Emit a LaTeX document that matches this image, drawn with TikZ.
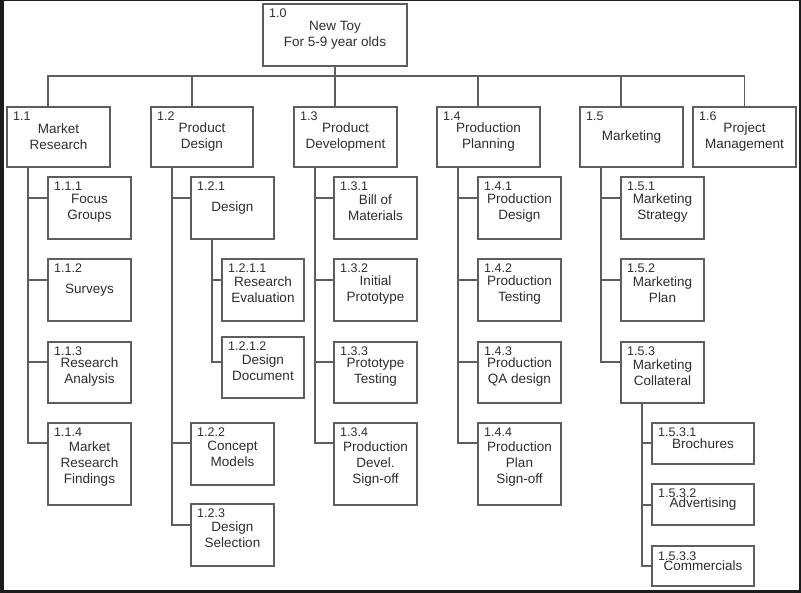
\documentclass[tikz,border=0pt]{standalone}
\usepackage{fontspec}
\setmainfont{Liberation Sans}
\definecolor{linegray}{HTML}{5E5E5E}
\definecolor{inkgray}{HTML}{2E2E2E}
\definecolor{framedark}{HTML}{1C1C1C}
\newcommand\namefont{\fontsize{13.5}{16}\selectfont}
\newcommand\idfont{\fontsize{12.5}{14}\selectfont}
\tikzset{
  wbs/.style={draw=linegray, line width=1.3pt, rectangle, inner sep=0pt,
    outer sep=0pt, align=center, font=\namefont, text=inkgray, anchor=north west},
  wbsid/.style={anchor=base west, font=\idfont, text=inkgray, inner sep=0pt},
  link/.style={draw=linegray, line width=1.3pt},
}
% #1 name, #2 left, #3 top, #4 width, #5 height, #6 code, #7 title
\newcommand\wbsnode[7]{%
  \node[wbs, minimum width=#4pt, minimum height=#5pt] (#1) at (#2pt,-#3pt) {#7};
  \node[wbsid] (#1-id) at ([xshift=6pt,yshift=-14pt]#1.north west) {#6};
}
\begin{document}
\begin{tikzpicture}
\useasboundingbox[fill=framedark] (0,0) rectangle (801pt,-593pt);
\fill[white] (4pt,-1pt) rectangle (799pt,-590pt);

% level 0 and 1
\wbsnode{n10}{263}{4}{144}{62}{1.0}{New Toy\\For 5-9 year olds}
\wbsnode{n11}{7}{107}{103}{60}{1.1}{Market\\Research}
\wbsnode{n12}{151}{107}{102}{60}{1.2}{Product\\Design}
\wbsnode{n13}{294}{107}{103}{60}{1.3}{Product\\Development}
\wbsnode{n14}{437}{107}{103}{60}{1.4}{Production\\Planning}
\wbsnode{n15}{580}{107}{103}{60}{1.5}{Marketing}
\wbsnode{n16}{693}{107}{103}{60}{1.6}{Project\\Management}

% 1.1 branch
\wbsnode{n111}{48}{177}{83}{62}{1.1.1}{Focus\\Groups}
\wbsnode{n112}{48}{259}{83}{62}{1.1.2}{Surveys}
\wbsnode{n113}{48}{342}{83}{61}{1.1.3}{Research\\Analysis}
\wbsnode{n114}{48}{423}{83}{82}{1.1.4}{Market\\Research\\Findings}

% 1.2 branch
\wbsnode{n121}{191}{177}{83}{62}{1.2.1}{Design}
\wbsnode{n1211}{222}{259}{82}{62}{1.2.1.1}{Research\\Evaluation}
\wbsnode{n1212}{222}{337}{82}{61}{1.2.1.2}{Design\\Document}
\wbsnode{n122}{191}{423}{83}{62}{1.2.2}{Concept\\Models}
\wbsnode{n123}{191}{504}{83}{62}{1.2.3}{Design\\Selection}

% 1.3 branch
\wbsnode{n131}{334}{177}{83}{62}{1.3.1}{Bill of\\Materials}
\wbsnode{n132}{334}{259}{83}{62}{1.3.2}{Initial\\Prototype}
\wbsnode{n133}{334}{342}{83}{61}{1.3.3}{Prototype\\Testing}
\wbsnode{n134}{334}{423}{83}{82}{1.3.4}{Production\\Devel.\\Sign-off}

% 1.4 branch
\wbsnode{n141}{478}{177}{83}{62}{1.4.1}{Production\\Design}
\wbsnode{n142}{478}{259}{83}{62}{1.4.2}{Production\\Testing}
\wbsnode{n143}{478}{342}{83}{61}{1.4.3}{Production\\QA design}
\wbsnode{n144}{478}{423}{83}{82}{1.4.4}{Production\\Plan\\Sign-off}

% 1.5 branch
\wbsnode{n151}{621}{177}{83}{62}{1.5.1}{Marketing\\Strategy}
\wbsnode{n152}{621}{259}{83}{62}{1.5.2}{Marketing\\Plan}
\wbsnode{n153}{621}{342}{83}{61}{1.5.3}{Marketing\\Collateral}
\wbsnode{n1531}{652}{423}{102}{41}{1.5.3.1}{Brochures}
\wbsnode{n1532}{652}{484}{102}{41}{1.5.3.2}{Advertising}
\wbsnode{n1533}{652}{546}{102}{40}{1.5.3.3}{Commercials}

% root to level 1 (shared bus)
\foreach \c in {n11,n12,n13,n14,n15}
  \draw[link] (n10.south) -- ++(0,-10pt) -| ([xshift=41pt]\c.north west);
\draw[link] (n10.south) -- ++(0,-10pt) -| (n16.north);

% level 1 to level 2 (side spines)
\foreach \p/\c/\s in {n11/n111/21, n11/n112/21, n11/n113/20, n11/n114/20,
                      n12/n121/21, n12/n122/20, n12/n123/21,
                      n13/n131/21, n13/n132/21, n13/n133/20, n13/n134/20,
                      n14/n141/21, n14/n142/21, n14/n143/20, n14/n144/20,
                      n15/n151/21, n15/n152/21, n15/n153/20,
                      n121/n1211/21, n121/n1212/25,
                      n153/n1531/20, n153/n1532/21, n153/n1533/20}
  \draw[link] ([xshift=21pt]\p.south west) |- ([yshift=-\s pt]\c.north west);
\end{tikzpicture}
\end{document}
